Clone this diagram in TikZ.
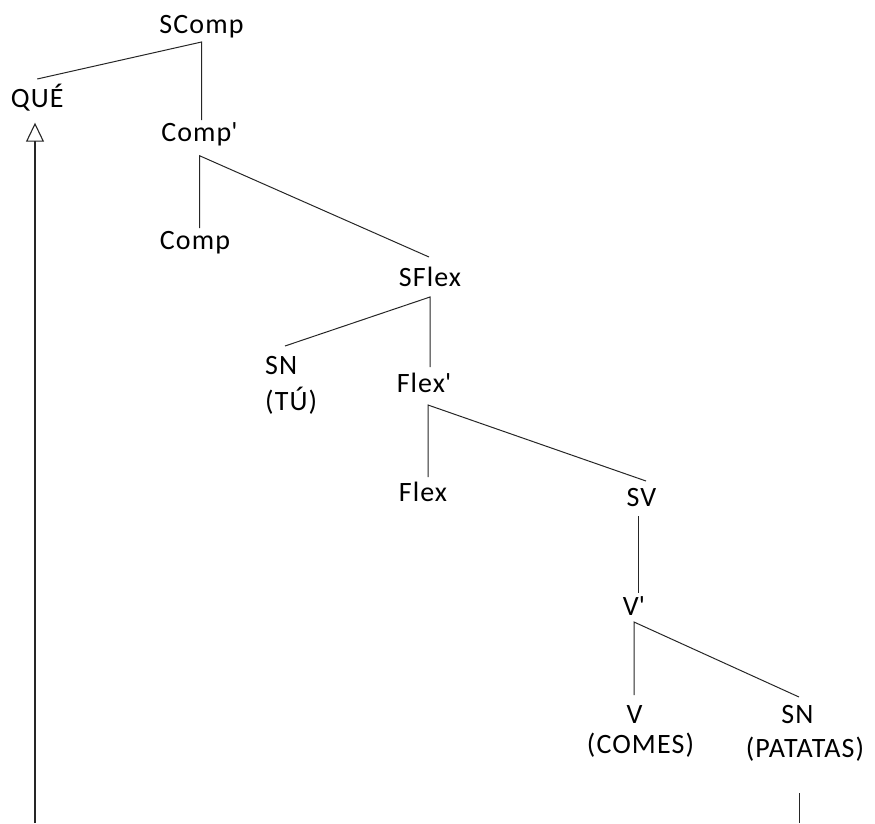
\documentclass[tikz,border=0pt]{standalone}
\usepackage{fontspec}
\setmainfont[LetterSpace=4]{Carlito}
\usetikzlibrary{arrows.meta}
\newcommand{\apos}{\textquotesingle}
\begin{document}
\begin{tikzpicture}[x=1pt,y=-1pt,
  lbl/.style={inner sep=0pt, anchor=base, font=\fontsize{28}{34}\selectfont},
  branch/.style={draw=black!85, line width=1pt},
  movearrow/.style={draw=black!85, line width=1.2pt, -{Triangle[open, length=19pt, width=18pt, line width=1.1pt]}}]
\useasboundingbox (0,0) rectangle (875,823);
% labels
\node[lbl] (scomp) at (201.5,33.3) {SComp};
\node[lbl] (que) at (37.2,107.3) {QUÉ};
\node[lbl] (compp) at (199.5,141.7) {Comp\apos};
\node[lbl] (comp) at (195,249) {Comp};
\node[lbl] (sflex) at (430,286) {SFlex};
\node[lbl, anchor=base west, align=left] (sntu) at (265,410) {SN\\[2pt](TÚ)};
\node[lbl] (flexp) at (424,392.7) {Flex\apos};
\node[lbl] (flex) at (423,501.7) {Flex};
\node[lbl] (sv) at (641.5,506.7) {SV};
\node[lbl] (vp) at (634,615) {V\apos};
\node[lbl, align=center] (vcomes) at (640.5,753.3) {\hspace*{-12pt}V\\[-4pt](COMES)};
\node[lbl, align=center] (snpat) at (805,757) {\hspace*{-15pt}SN\\(PATATAS)};
% attachment points
\coordinate (scompB) at ([yshift=-8.7pt]scomp.base);
\coordinate (queT) at ([yshift=28.3pt]que.base);
\coordinate (comppT) at ([yshift=21.7pt]compp.base);
\coordinate (comppB) at ([yshift=-14pt]compp.base);
\coordinate (compT) at ([yshift=21pt]comp.base);
\coordinate (sflexT) at ([xshift=-1pt,yshift=29pt]sflex.base);
\coordinate (sflexB) at ([yshift=-11pt]sflex.base);
\coordinate (sntuT) at ([xshift=20pt,yshift=64pt]sntu.base west);
\coordinate (flexpT) at ([yshift=25.7pt]flexp.base);
\coordinate (flexpB) at ([xshift=4pt,yshift=-12.3pt]flexp.base);
\coordinate (flexT) at ([yshift=24.7pt]flex.base);
\coordinate (svT) at ([xshift=4.5pt,yshift=25.7pt]sv.base);
\coordinate (svB) at ([xshift=-2.8pt,yshift=-9.3pt]sv.base);
\coordinate (vpT) at ([yshift=22pt]vp.base);
\coordinate (vpB) at ([yshift=-7pt]vp.base);
\coordinate (vT) at ([yshift=58.3pt]vcomes.base);
\coordinate (snpT) at ([xshift=-6pt,yshift=60pt]snpat.base);
\coordinate (snpB) at ([xshift=-6pt,yshift=-36pt]snpat.base);
\coordinate (snpEnd) at (799,823);
\coordinate (queA) at ([xshift=-2.2pt,yshift=-15.4pt]que.base);
\coordinate (arrowStart) at (35,823);
% branches
\draw[branch] (queT) -- (scompB) -- (scompB |- comppT);
\draw[branch] (comppB |- compT) -- (comppB) -- (sflexT);
\draw[branch] (sntuT) -- (sflexB) -- (sflexB |- flexpT);
\draw[branch] (flexpB |- flexT) -- (flexpB) -- (svT);
\draw[branch] (svB) -- (svB |- vpT);
\draw[branch] (vpB |- vT) -- (vpB) -- (snpT);
\draw[branch] (snpB) -- (snpEnd);
\draw[movearrow] (arrowStart) -- (queA);
\end{tikzpicture}
\end{document}
